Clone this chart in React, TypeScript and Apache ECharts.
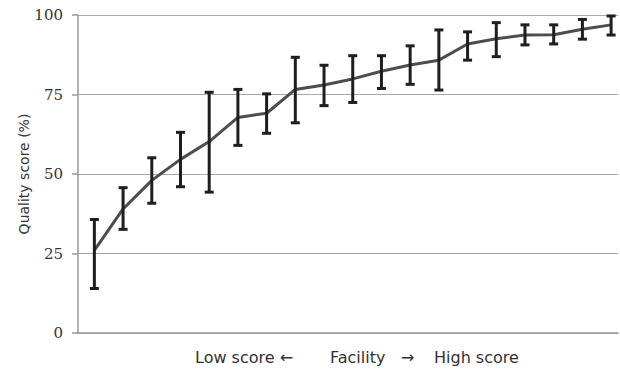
import React, { useEffect, useRef } from "react";
import * as echarts from "echarts";

const facilities = [1, 2, 3, 4, 5, 6, 7, 8, 9, 10, 11, 12, 13, 14, 15, 16, 17, 18, 19];
const meanScore = [26, 39, 48, 54.6, 60.2, 67.8, 69.1, 76.6, 78, 79.9, 82.3, 84.3, 85.8, 90.9, 92.5, 93.7, 93.8, 95.5, 96.9];
const upperScore = [35.7, 45.7, 55.1, 63.1, 75.7, 76.6, 75.2, 86.7, 84.2, 87.2, 87.2, 90.3, 95.3, 94.7, 97.6, 96.9, 96.9, 98.6, 99.7];
const lowerScore = [14, 32.6, 40.8, 46, 44.3, 59, 62.8, 66.1, 71.5, 72.5, 76.9, 78.2, 76.4, 85.8, 86.9, 90.6, 90.9, 92.4, 93.7];
const yTicks = [0, 25, 50, 75, 100];

export default function App() {
  const ref = useRef<HTMLDivElement>(null);
  useEffect(() => {
    if (!ref.current) return;
    const chart = echarts.init(ref.current, undefined, { renderer: "svg" });
    const lineData = facilities.map((f, i) => [f, meanScore[i]]);
    const errData = facilities.map((f, i) => [f, lowerScore[i], upperScore[i]]);
    const titleFont = "16px 'DejaVu Sans'";
    chart.setOption({
      animation: false,
      backgroundColor: "#ffffff",
      grid: { left: 78, right: 2, top: 15, bottom: 36 },
      xAxis: {
        type: "value",
        min: 0.43,
        max: 19.24,
        axisLine: { show: true, lineStyle: { color: "#9a9a9a", width: 1.5 } },
        axisTick: { show: false },
        axisLabel: { show: false },
        splitLine: { show: false },
      },
      yAxis: {
        type: "value",
        min: yTicks[0],
        max: yTicks[yTicks.length - 1],
        interval: 25,
        name: "Quality score (%)",
        nameLocation: "middle",
        nameGap: 47,
        nameMoveOverlap: false,
        nameTextStyle: { fontFamily: "DejaVu Sans", fontSize: 14, color: "#333333" },
        axisLine: { show: true, lineStyle: { color: "#9a9a9a", width: 1.5 } },
        axisTick: { show: true, length: 6, lineStyle: { color: "#9a9a9a", width: 1.5 } },
        axisLabel: { fontFamily: "DejaVu Serif", fontSize: 15, color: "#333333", margin: 15 },
        splitLine: { show: true, lineStyle: { color: "#a8a8a8", width: 1.2 } },
      },
      series: [
        {
          type: "line",
          data: lineData,
          symbol: "none",
          lineStyle: { color: "#4d4d4d", width: 3 },
          z: 3,
        },
        {
          type: "custom",
          data: errData,
          z: 4,
          renderItem: (params: any, api: any) => {
            const x = api.value(0);
            const lo = api.coord([x, api.value(1)]);
            const hi = api.coord([x, api.value(2)]);
            const half = 4.5;
            const style = { stroke: "#1e1e1e", lineWidth: 3 };
            return {
              type: "group",
              children: [
                { type: "line", shape: { x1: lo[0], y1: lo[1], x2: hi[0], y2: hi[1] }, style },
                { type: "line", shape: { x1: hi[0] - half, y1: hi[1], x2: hi[0] + half, y2: hi[1] }, style },
                { type: "line", shape: { x1: lo[0] - half, y1: lo[1], x2: lo[0] + half, y2: lo[1] }, style },
              ],
            };
          },
        },
      ],
      graphic: [
        { type: "text", x: 195, y: 357, style: { text: "Low score ←", font: titleFont, fill: "#333333", verticalAlign: "middle" } },
        { type: "text", x: 330, y: 357, style: { text: "Facility", font: titleFont, fill: "#333333", verticalAlign: "middle" } },
        { type: "text", x: 401, y: 357, style: { text: "→", font: titleFont, fill: "#333333", verticalAlign: "middle" } },
        { type: "text", x: 434, y: 357, style: { text: "High score", font: titleFont, fill: "#333333", verticalAlign: "middle" } },
      ],
    });
    return () => chart.dispose();
  }, []);
  return <div ref={ref} style={{ width: 620, height: 369, position: "absolute", left: 0, top: 0 }} />;
}
